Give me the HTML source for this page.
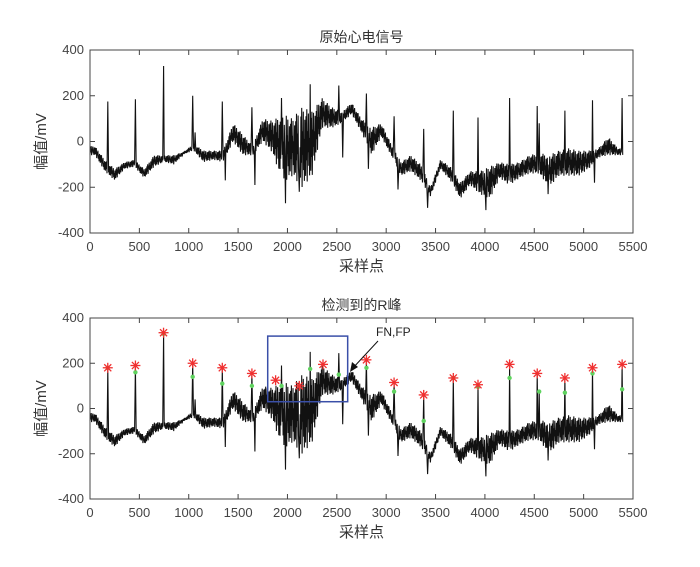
<!DOCTYPE html>
<html><head><meta charset="utf-8">
<style>
body{margin:0;background:#fff;}
svg text{font-family:"Liberation Sans","Noto Sans CJK SC",sans-serif;}
</style></head>
<body>
<svg id="chart" width="700" height="562" viewBox="0 0 700 562" xmlns="http://www.w3.org/2000/svg"></svg>
<script>
// Envelope of the ECG per 100-sample bin (mV): low and high
const binLo = [-60,-130,-170,-120,-110,-160,-110,-90,-100,-55,-40,-90,-80,-90,0,-60,-60,0,-50,-180,-150,-200,-150,60,60,80,120,40,-60,20,-60,-150,-130,-170,-240,-120,-170,-250,-190,-230,-250,-160,-190,-160,-140,-140,-200,-150,-150,-150,-120,-70,-60,-60];
const binHi = [-20,-80,-120,-90,-80,-120,-60,-60,-60,-45,-10,-40,-40,-40,80,30,-20,100,90,120,100,150,130,190,150,130,170,100,60,80,-10,-90,-60,-100,-200,-80,-110,-180,-130,-130,-110,-90,-100,-90,-60,-50,-60,-40,-30,-40,-40,-30,20,-30];
// Spikes / dips: sample index and value (mV)
const spikeX = [180,460,745,1040,1065,1340,1370,1640,1670,1940,1980,2120,2230,2520,2560,2800,2820,3080,3120,3380,3420,3680,3930,4010,4250,4530,4550,4640,4810,5090,5110,5390];
const spikeV = [175,185,330,200,40,175,-170,150,-190,190,-270,-220,250,245,-70,210,-120,110,-210,55,-290,135,105,-300,190,155,80,-230,135,180,-180,190];
// Detected R peaks (red asterisks) and reference points (green dots)
const starX = [180,460,745,1040,1340,1640,1880,2120,2360,2800,3080,3380,3680,3930,4250,4530,4810,5090,5390];
const starV = [180,190,335,200,180,155,125,100,195,215,115,60,135,105,195,155,135,180,195];
const dotX = [180,460,745,1040,1340,1640,1940,2230,2520,2800,3080,3380,3680,3930,4250,4550,4810,5090,5390];
const dotV = [180,160,330,140,110,100,100,175,150,180,75,-55,135,95,135,75,70,155,85];
const xTicks = [0,500,1000,1500,2000,2500,3000,3500,4000,4500,5000,5500];
const yTicks = [400,200,0,-200,-400];
const texture = [0.1,0.9,0.3,1.0,0.0,0.7,0.4,0.95,0.2,0.6,0.05,0.85,0.5];

const NS='http://www.w3.org/2000/svg';
const svg=document.getElementById('chart');
function el(tag,attrs,parent){const e=document.createElementNS(NS,tag);for(const k in attrs)e.setAttribute(k,attrs[k]);(parent||svg).appendChild(e);return e;}

function env(arr,x){
  const p=x/100-0.5;
  const i=Math.max(0,Math.min(arr.length-1,Math.floor(p)));
  const j=Math.min(arr.length-1,i+1);
  const t=Math.max(0,Math.min(1,p-i));
  return arr[i]*(1-t)+arr[j]*t;
}
const pts=[];
for(let x=0;x<5400;x+=4){
  const f=texture[(x/4)%texture.length];
  const lo=env(binLo,x),hi=env(binHi,x);
  pts.push([x,lo+(hi-lo)*f]);
}
const sig=pts.filter(p=>!spikeX.some(s=>Math.abs(p[0]-s)<6));
spikeX.forEach((s,i)=>sig.push([s,spikeV[i]]));
sig.sort((a,b)=>a[0]-b[0]);

function panel(name,top,bottom,title,withMarks){
  const x0=90,x1=633;
  const sx=v=>x0+(v/5500)*(x1-x0);
  const sy=v=>top+(400-v)/800*(bottom-top);
  const g=el('g',{});
  
  
  const t=el('text',{x:(x0+x1)/2,y:top-8,'text-anchor':'middle','font-size':'14',fill:'#333'},g);
  t.textContent=title;
  
  
  let d='';
  sig.forEach((p,i)=>{d+=(i?'L':'M')+sx(p[0]).toFixed(1)+','+sy(p[1]).toFixed(1);});
  const line=el('path',{d:d,fill:'none',stroke:'#111','stroke-width':'1.1'},g);
  
  
  el('rect',{x:x0,y:top,width:x1-x0,height:bottom-top,fill:'none',stroke:'#444','stroke-width':'1'},g);
  xTicks.forEach(v=>{
    const X=sx(v);
    el('line',{x1:X,x2:X,y1:bottom,y2:bottom-5,stroke:'#444'},g);
    el('line',{x1:X,x2:X,y1:top,y2:top+5,stroke:'#444'},g);
    const tl=el('text',{x:X,y:bottom+18,'text-anchor':'middle','font-size':'13',fill:'#444'},g);
    tl.textContent=v;
    
    
  });
  yTicks.forEach(v=>{
    const Y=sy(v);
    el('line',{x1:x0,x2:x0+5,y1:Y,y2:Y,stroke:'#444'},g);
    el('line',{x1:x1,x2:x1-5,y1:Y,y2:Y,stroke:'#444'},g);
    const tl=el('text',{x:x0-6,y:Y+4,'text-anchor':'end','font-size':'13',fill:'#444'},g);
    tl.textContent=v;
    
    
  });
  const xl=el('text',{x:(x0+x1)/2,y:bottom+38,'text-anchor':'middle','font-size':'15',fill:'#333'},g);
  xl.textContent='采样点';
  
  
  const yc=(top+bottom)/2;
  const yl=el('text',{x:46,y:yc,'text-anchor':'middle','font-size':'15',fill:'#333',transform:'rotate(-90 46 '+yc+')'},g);
  yl.textContent='幅值/mV';
  
  
  if(withMarks){
    dotX.forEach((v,i)=>{
      const c=el('circle',{cx:sx(v),cy:sy(dotV[i]),r:2.2,fill:'#5fd35f'},g);
      
      
    });
    starX.forEach((v,i)=>{
      const X=sx(v),Y=sy(starV[i]);
      const s=el('g',{stroke:'#f03030','stroke-width':'1.3'},g);
      
      
      for(let a=0;a<4;a++){const ang=a*Math.PI/4;el('line',{x1:X-5*Math.cos(ang),y1:Y-5*Math.sin(ang),x2:X+5*Math.cos(ang),y2:Y+5*Math.sin(ang)},s);}
    });
    const bx=el('rect',{x:sx(1800),y:sy(320),width:sx(2610)-sx(1800),height:sy(30)-sy(320),fill:'none',stroke:'#3a4fa8','stroke-width':'1.5'},g);
    
    
    const ar=el('line',{x1:378,y1:341,x2:352,y2:369,stroke:'#111','stroke-width':'1'},g);
    
    
    el('path',{d:'M350,372 L352,362 L358,367 Z',fill:'#111'},g);
    const at=el('text',{x:376,y:336,'font-size':'12',fill:'#222'},g);
    at.textContent='FN,FP';
    
    
  }
}
panel('raw-ecg-panel',50,233,'原始心电信号',false);
panel('r-peak-panel',318,499,'检测到的R峰',true);
</script>
</body></html>
